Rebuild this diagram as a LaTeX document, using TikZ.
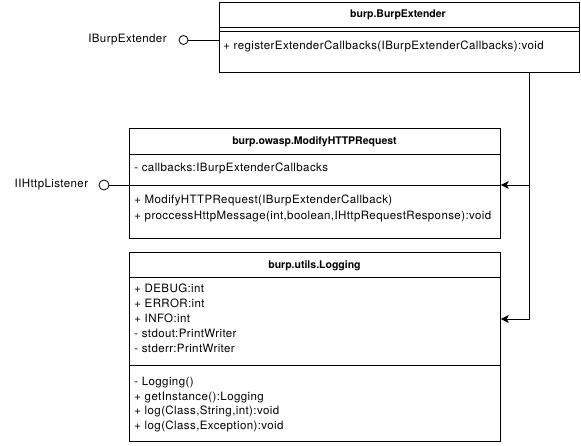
\documentclass[tikz,border=0pt]{standalone}
\usepackage{fontspec}
\setmainfont{TeX Gyre Heros}
\newfontfamily\umlfont[LetterSpace=3.5]{TeX Gyre Heros}
\usetikzlibrary{arrows.meta}

\begin{document}
\begin{tikzpicture}[x=1pt,y=-1pt,line width=0.8pt,
  every node/.style={font=\umlfont\fontsize{11.5}{13}\selectfont},
  classbox/.style={draw,rectangle,anchor=north west,inner sep=0pt},
  classname/.style={font=\fontsize{10.5}{13}\selectfont\bfseries,inner sep=0pt},
  member/.style={anchor=west,inner sep=0pt,text height=8.5pt,text depth=2.5pt},
  iface/.style={draw,circle,inner sep=0pt,minimum size=9pt},
  ifacename/.style={anchor=east,inner sep=0pt},
  dep/.style={-{Stealth[length=8pt,width=8pt,inset=2pt]}}]

\useasboundingbox (0,0) rectangle (581,446);

% burp.BurpExtender
\node[classbox,minimum width=360pt,minimum height=70pt] (ext) at (219,2) {};
\node[classname] (extName) at (398,14.5) {burp.BurpExtender};
\draw (ext.west |- 0,27.5) -- (ext.east |- 0,27.5)
      (ext.west |- 0,31) -- (ext.east |- 0,31);
\node[member] (extM1) at (223,47) {+ registerExtenderCallbacks(IBurpExtenderCallbacks):void};

% burp.owasp.ModifyHTTPRequest
\node[classbox,minimum width=371pt,minimum height=110pt] (mod) at (129,128) {};
\node[classname] (modName) at (314.5,141.5) {burp.owasp.ModifyHTTPRequest};
\draw (mod.west |- 0,154) -- (mod.east |- 0,154)
      (mod.west |- 0,185) -- (mod.east |- 0,185);
\node[member] (modA1) at (134,169) {- callbacks:IBurpExtenderCallbacks};
\node[member] (modM1) at (134,201) {+ ModifyHTTPRequest(IBurpExtenderCallback)};
\node[member] (modM2) at (134,217) {+ proccessHttpMessage(int,boolean,IHttpRequestResponse):void};

% burp.utils.Logging
\node[classbox,minimum width=371pt,minimum height=189pt] (log) at (129,252) {};
\node[classname] (logName) at (314.5,265.5) {burp.utils.Logging};
\draw (log.west |- 0,277) -- (log.east |- 0,277)
      (log.west |- 0,365) -- (log.east |- 0,365);
\foreach \txt [count=\i] in {+ DEBUG:int, + ERROR:int, + INFO:int,
    - stdout:PrintWriter, - stderr:PrintWriter}
  \node[member] (logA\i) at (134,{290+14.8*(\i-1)}) {\txt};
\foreach \txt [count=\i] in {- Logging(), + getInstance():Logging,
    {+ log(Class,String,int):void}, {+ log(Class,Exception):void}}
  \node[member] (logM\i) at (134,{382.3+14.8*(\i-1)}) {\txt};

% interfaces
\node[iface] (iExt) at (183.5,40) {};
\node[ifacename] (iExtName) at (167,40) {IBurpExtender};
\draw (iExt) -- (ext.west |- iExt);
\node[iface,minimum size=10pt] (iList) at (104,185) {};
\node[ifacename] (iListName) at (88.5,185) {IIHttpListener};
\draw (iList) -- (mod.west |- iList);

% dependencies
\coordinate (bus) at (529,185);
\draw[dep] (ext.south -| bus) -- (bus) -- (mod.east |- bus);
\draw[dep] (bus) |- (log.east |- 0,319);

\end{tikzpicture}
\end{document}
